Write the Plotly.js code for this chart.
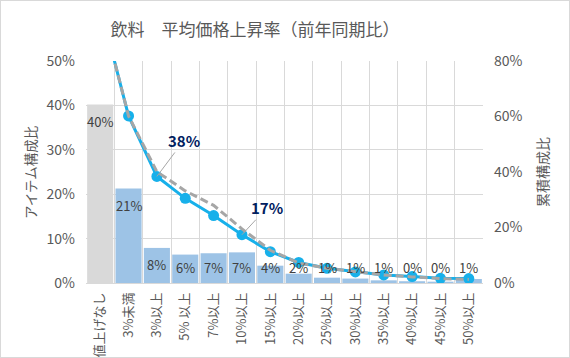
<!DOCTYPE html>
<html>
<head>
<meta charset="utf-8">
<script src="https://cdn.plot.ly/plotly-3.0.1.min.js"></script>
<style>
html,body{margin:0;padding:0;background:#fff;}
#wrap{position:relative;width:570px;height:358px;}
#frame{position:absolute;left:0;top:0;width:568px;height:356px;border:1px solid #d9d9d9;pointer-events:none;}
</style>
</head>
<body>
<div id="wrap"><div id="chart" style="width:570px;height:358px;"></div><div id="frame"></div></div>
<script>
const categories = ['値上げなし','3%未満','3%以上','5% 以上','7%以上','10%以上','15%以上','20%以上','25%以上','30%以上','35%以上','40%以上','45%以上','50%以上'];
const itemShare = [40.2, 21.3, 7.9, 6.4, 6.7, 6.9, 3.9, 2.1, 1.2, 1.0, 0.6, 0.4, 0.3, 0.9];
const cumShare = [100, 60.2, 38.4, 30.5, 24.3, 17.4, 11.3, 7.4, 5.3, 4.0, 2.9, 2.3, 1.7, 1.6];
const cumSharePrev = [100, 60.2, 40.1, 33.2, 28.0, 19.5, 11.8, 7.2, 5.3, 4.0, 2.9, 2.2, 1.6, 1.3];
const calloutIdx = [2, 5];
const leftTitle = 'アイテム構成比';
const rightTitle = '累積構成比';

const FONT = '"Noto Sans CJK JP", "Noto Sans", sans-serif';
const barColors = itemShare.map((v, i) => i === 0 ? '#d9d9d9' : '#9dc3e6');

const traces = [
  {type:'bar', x:categories, y:itemShare, marker:{color:barColors}, hoverinfo:'none', yaxis:'y'},
  {type:'scatter', mode:'lines+markers', x:categories, y:cumShare, yaxis:'y2',
   line:{color:'#17b0ea', width:3}, marker:{color:'#17b0ea', size:11}, hoverinfo:'none'},
  {type:'scatter', mode:'lines', x:categories, y:cumSharePrev, yaxis:'y2',
   line:{color:'#a6a6a6', width:3, dash:'8px,4px'}, hoverinfo:'none'}
];

const annotations = itemShare.map((v, i) => ({
  x: categories[i], y: Math.max(v - 3.8, 3.6), xref:'x', yref:'y',
  text: Math.round(v) + '%', showarrow:false,
  font:{family:FONT, size:13, color:'#404040'}
}));
calloutIdx.forEach(i => {
  annotations.push({
    x: categories[i], y: cumShare[i], xref:'x', yref:'y2',
    text: '<b>' + Math.round(cumShare[i]) + '%</b>', showarrow:true,
    arrowhead:0, arrowwidth:1, arrowcolor:'#a6a6a6', ax: i === 2 ? 27 : 25, ay: i === 2 ? -36 : -27,
    standoff: 0,
    font:{family:FONT, size:15, color:'#002060'}
  });
});
annotations.push({text:leftTitle, xref:'paper', yref:'paper', x:(30-86)/397, y:(283-172)/222,
  xanchor:'center', yanchor:'middle', textangle:-90, showarrow:false,
  font:{family:FONT, size:13.5, color:'#595959'}});
annotations.push({text:rightTitle, xref:'paper', yref:'paper', x:(542-86)/397, y:(283-172)/222,
  xanchor:'center', yanchor:'middle', textangle:-90, showarrow:false,
  font:{family:FONT, size:14, color:'#595959'}});

const layout = {
  width:570, height:358,
  margin:{l:86, r:87, t:61, b:75, pad:0},
  paper_bgcolor:'#ffffff', plot_bgcolor:'#ffffff',
  showlegend:false,
  bargap:0.08,
  font:{family:FONT, color:'#595959'},
  title:{text:'飲料　平均価格上昇率（前年同期比）', x:255/570, xanchor:'center', y:1-30/358, yanchor:'middle', yref:'container',
         font:{family:FONT, size:17, color:'#595959'}},
  xaxis:{type:'category', range:[-0.5, 13.5], tickson:'boundaries', showgrid:true, gridcolor:'#d9d9d9', gridwidth:1,
         ticks:'', tickangle:-90, tickfont:{family:FONT, size:13, color:'#595959'}, showline:false, zeroline:false,
         ticklabelstandoff:6, automargin:false},
  yaxis:{range:[0,50], dtick:10, ticksuffix:'%', showgrid:true, gridcolor:'#d9d9d9', zeroline:true, zerolinecolor:'#d9d9d9',
         ticks:'', tickfont:{family:FONT, size:14, color:'#595959'}, ticklabelstandoff:10, automargin:false},
  yaxis2:{range:[0,80], dtick:20, ticksuffix:'%', overlaying:'y', side:'right', showgrid:false, zeroline:false,
          ticks:'', tickfont:{family:FONT, size:14, color:'#595959'}, ticklabelstandoff:10, automargin:false},
  annotations: annotations
};

Plotly.newPlot('chart', traces, layout, {staticPlot:true, displayModeBar:false});
</script>
</body>
</html>
